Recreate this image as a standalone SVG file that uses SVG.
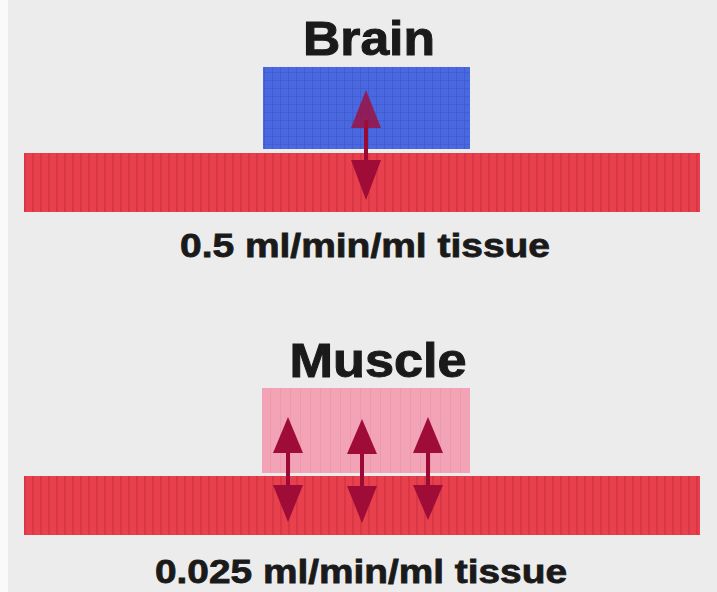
<svg xmlns="http://www.w3.org/2000/svg" width="717" height="592" viewBox="0 0 717 592">
<defs>
<pattern id="stripes" width="8" height="10" patternUnits="userSpaceOnUse">
<rect width="8" height="10" fill="#e8404c"/>
<rect x="0" width="2" height="10" fill="#c8303e" opacity="0.5"/>
</pattern>
<pattern id="grid" width="8" height="8" patternUnits="userSpaceOnUse">
<rect width="8" height="8" fill="#4a68e0"/>
<path d="M0 0H8M0 0V8" stroke="#3a55c8" stroke-width="1.2" fill="none"/>
</pattern>
<pattern id="pinkgrid" width="10" height="10" patternUnits="userSpaceOnUse">
<rect width="10" height="10" fill="#f2a3b5"/>
<path d="M0 0V10" stroke="#e8909f" stroke-width="1" fill="none"/>
</pattern>
</defs>
<style>
.title{font-family:"Liberation Sans",Arial,sans-serif;font-weight:bold;font-size:48px;fill:#1a1a1a;stroke:#1a1a1a;stroke-width:1;text-anchor:middle}
.rate{font-family:"Liberation Sans",Arial,sans-serif;font-weight:bold;font-size:34px;fill:#1a1a1a;stroke:#1a1a1a;stroke-width:0.8;text-anchor:middle}
.shaft{stroke:#9a0a35;stroke-width:4}
.head{fill:#a00c38}
</style>
<rect width="717" height="592" fill="#ececec"/>
<rect width="8" height="592" fill="#fafafa"/>
<g id="brain">
<text class="title" x="369" y="55" textLength="132" lengthAdjust="spacingAndGlyphs">Brain</text>
<rect x="263" y="67" width="207" height="82" fill="url(#grid)"/>
</g>
<g id="vessel1">
<rect x="24" y="153" width="676" height="59" fill="url(#stripes)"/>
</g>
<g id="rate1">
<text class="rate" x="365" y="257" textLength="370" lengthAdjust="spacingAndGlyphs">0.5 ml/min/ml tissue</text>
</g>
<g id="muscle">
<text class="title" x="378" y="377" textLength="177" lengthAdjust="spacingAndGlyphs">Muscle</text>
<rect x="262" y="388" width="208" height="85" fill="url(#pinkgrid)"/>
</g>
<g id="vessel2">
<rect x="24" y="476" width="676" height="59" fill="url(#stripes)"/>
</g>
<g id="rate2">
<text class="rate" x="361" y="583" textLength="412" lengthAdjust="spacingAndGlyphs">0.025 ml/min/ml tissue</text>
</g>
<g id="connectors">
<line class="shaft" x1="366" y1="120" x2="366" y2="170"/>
<polygon class="head" points="366,90 351,128 381,128" opacity="0.8"/>
<polygon class="head" points="351,160 381,160 366,200"/>
<line class="shaft" x1="288" y1="445" x2="288" y2="495"/>
<polygon class="head" points="288,417 273,453 303,453"/>
<polygon class="head" points="273,485 303,485 288,522"/>
<line class="shaft" x1="362" y1="445" x2="362" y2="495"/>
<polygon class="head" points="362,419 347,454 377,454"/>
<polygon class="head" points="347,486 377,486 362,523"/>
<line class="shaft" x1="428" y1="445" x2="428" y2="495"/>
<polygon class="head" points="428,417 413,453 443,453"/>
<polygon class="head" points="413,485 443,485 428,520"/>
</g>
</svg>
